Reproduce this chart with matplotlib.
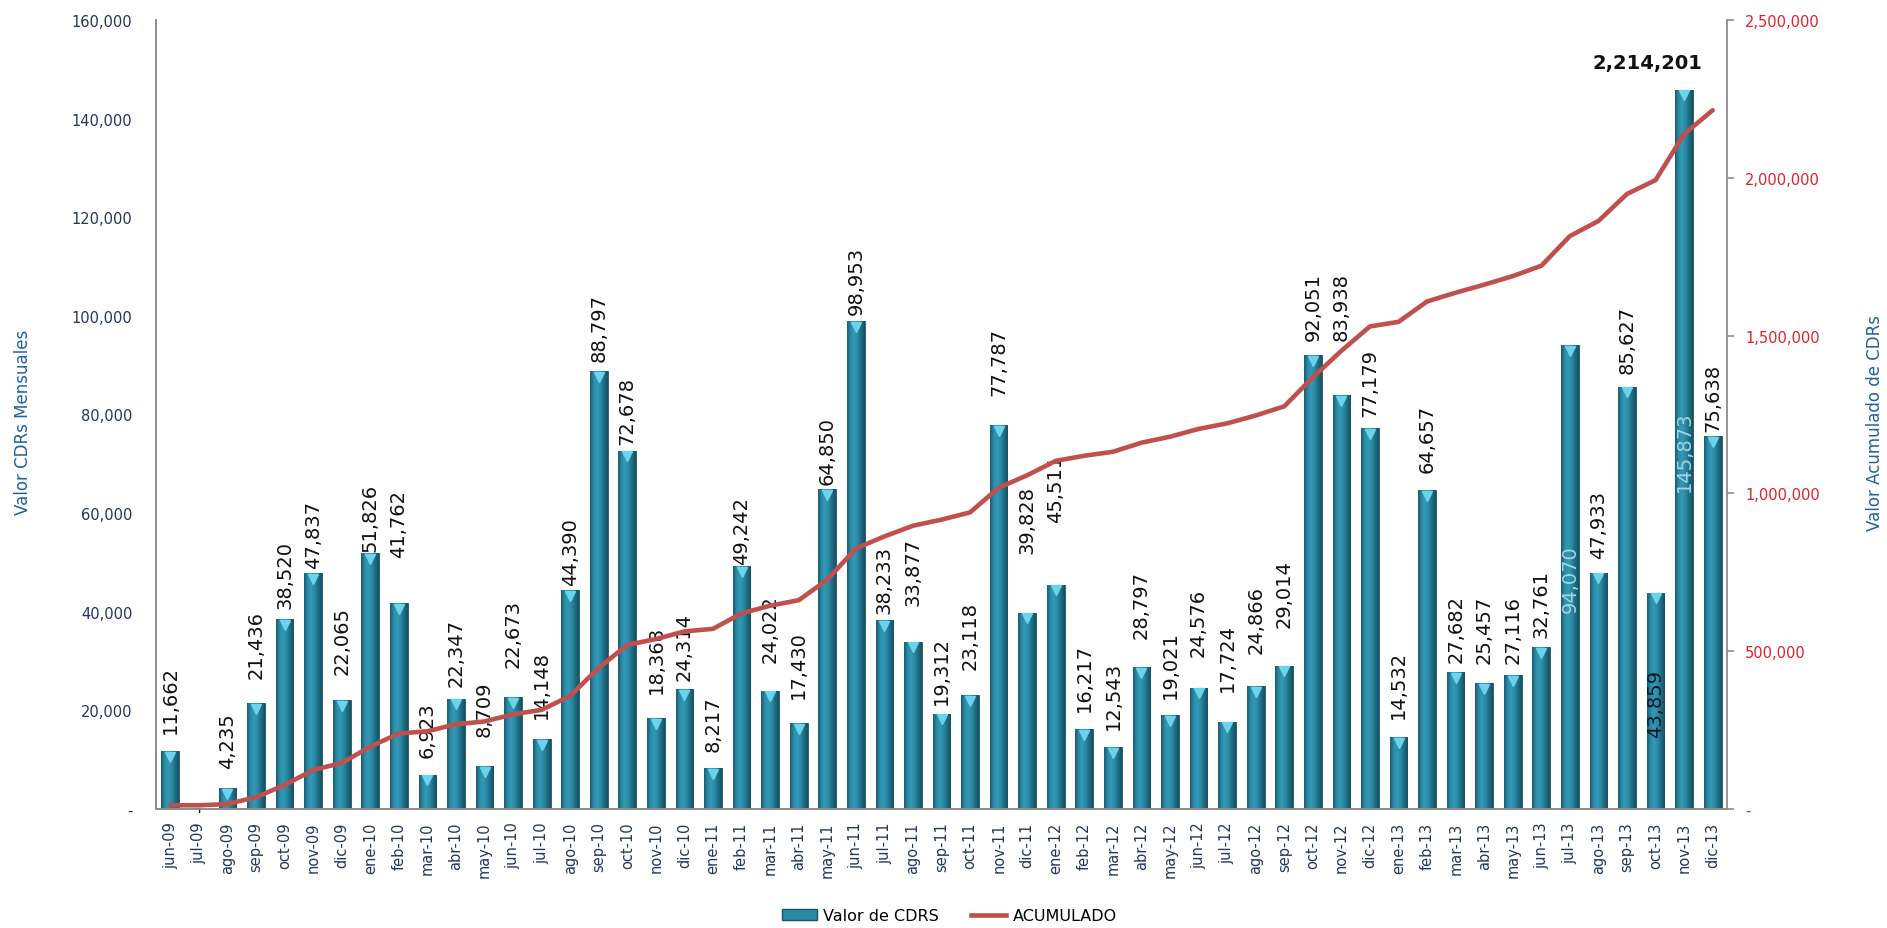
import numpy as np
import matplotlib
matplotlib.use("Agg")
import matplotlib.pyplot as plt
from matplotlib.colors import LinearSegmentedColormap
from matplotlib.patches import Patch
from matplotlib.lines import Line2D
from matplotlib.ticker import FuncFormatter, MultipleLocator
import matplotlib.transforms as mtransforms

# DATA
meses = ["jun-09", "jul-09", "ago-09", "sep-09", "oct-09", "nov-09", "dic-09",
         "ene-10", "feb-10", "mar-10", "abr-10", "may-10", "jun-10", "jul-10",
         "ago-10", "sep-10", "oct-10", "nov-10", "dic-10",
         "ene-11", "feb-11", "mar-11", "abr-11", "may-11", "jun-11", "jul-11",
         "ago-11", "sep-11", "oct-11", "nov-11", "dic-11",
         "ene-12", "feb-12", "mar-12", "abr-12", "may-12", "jun-12", "jul-12",
         "ago-12", "sep-12", "oct-12", "nov-12", "dic-12",
         "ene-13", "feb-13", "mar-13", "abr-13", "may-13", "jun-13", "jul-13",
         "ago-13", "sep-13", "oct-13", "nov-13", "dic-13"]

valor_cdrs = [11662, 0, 4235, 21436, 38520, 47837, 22065,
              51826, 41762, 6923, 22347, 8709, 22673, 14148,
              44390, 88797, 72678, 18368, 24314,
              8217, 49242, 24022, 17430, 64850, 98953, 38233,
              33877, 19312, 23118, 77787, 39828,
              45511, 16217, 12543, 28797, 19021, 24576, 17724,
              24866, 29014, 92051, 83938, 77179,
              14532, 64657, 27682, 25457, 27116, 32761, 94070,
              47933, 85627, 43859, 145873, 75638]

acumulado = np.cumsum(valor_cdrs)

# label gap above each bar (pixels), None = label drawn inside the bar
gaps = [18, 0, 20, 25, 11, 5, 26, 2, 46, 18, 13, 30, 30, 21, 5, 10, 7, 25, 9,
        17, 2, 29, 25, 5, 7, 7, 37, 10, 26, 30, 60, 63, 18, 18, 29, 17, 32, 31,
        33, 39, 15, 55, 12, 19, 18, 10, 20, 12, 10, None, 15, 14, None, None, 5]
# labels inside bars: index -> (bottom of text in data units, colour)
dentro = {49: (40000, "#9fd6e4"), 52: (14600, "#0d1a26"), 53: (64500, "#9fd6e4")}

# STYLE
c_line = "#c0504d"
c_tick = "#24365c"
c_axlabel = "#2060a0"
c_right = "#e0202c"
c_spine = "#8c8c8c"

fig = plt.figure(figsize=(18.87, 9.29), dpi=100)
ax = fig.add_axes([0.0827, 0.1281, 0.8325, 0.8493])
ax2 = ax.twinx()

x = np.arange(len(meses))
bars = ax.bar(x, valor_cdrs, width=0.62, color="#2a8aa5", edgecolor="#1b5565",
              linewidth=0.6, zorder=2)

# cylinder-like gradient on each bar
cmap = LinearSegmentedColormap.from_list(
    "cyl", ["#1a5b6e", "#2b8ba7", "#3399b6", "#2a89a4", "#1e6b80", "#175163"])
grad = np.linspace(0, 1, 64).reshape(1, -1)
for rect in bars:
    h = rect.get_height()
    if h <= 0:
        continue
    x0 = rect.get_x()
    w = rect.get_width()
    im = ax.imshow(grad, cmap=cmap, aspect="auto", interpolation="bilinear",
                   extent=(x0, x0 + w, 0, h), zorder=2.1)
    im.set_clip_path(rect)

# little light cap at top of bars
down = mtransforms.offset_copy(ax.transData, fig=fig, x=0, y=-4, units="points")
xs_cap = [i for i, v in enumerate(valor_cdrs) if v > 0]
ax.plot(xs_cap, [valor_cdrs[i] for i in xs_cap], linestyle="none", marker="v",
        ms=7, color="#6ad4ec", mec="#6ad4ec", transform=down, zorder=2.5)

ax.set_xlim(-0.5, len(meses) - 0.5)
ax.set_ylim(0, 160000)
ax2.set_ylim(0, 2500000)

# data labels
for i, v in enumerate(valor_cdrs):
    if v == 0:
        ax.text(i, 0, "-", rotation=90, ha="center", va="center", fontsize=13,
                color="#111111", zorder=3)
        continue
    txt = f"{v:,}"
    if i in dentro:
        ybot, col = dentro[i]
        ax.text(i, ybot, txt, rotation=90, ha="center", va="bottom",
                fontsize=14, color=col, zorder=3)
    else:
        ax.annotate(txt, (i, v), xytext=(0, gaps[i] * 0.72), textcoords="offset points",
                    rotation=90, ha="center", va="bottom", fontsize=14,
                    color="#111111", zorder=3)

# accumulated line
ax2.plot(x, acumulado, color=c_line, lw=3.3, solid_capstyle="round", zorder=4)
ax2.annotate(f"{acumulado[-1]:,}", (x[-1], acumulado[-1]), xytext=(-47, 34),
             textcoords="offset points", ha="center", va="center",
             fontsize=14, fontweight="bold", color="#111111")

# axes formatting
fmt = FuncFormatter(lambda v, p: "-" if v == 0 else f"{v:,.0f}")
ax.yaxis.set_major_locator(MultipleLocator(20000))
ax.yaxis.set_major_formatter(fmt)
ax2.yaxis.set_major_locator(MultipleLocator(500000))
ax2.yaxis.set_major_formatter(fmt)

ax.set_xticks(x)
ax.set_xticklabels(meses, rotation=90, fontsize=10.5, color=c_tick)
ax.tick_params(axis="x", length=0, pad=9)
ax.tick_params(axis="y", length=0, pad=17, labelsize=10.5, labelcolor=c_tick)
ax2.tick_params(axis="y", length=5, width=1.2, color=c_spine, pad=8,
                labelsize=10.5, labelcolor=c_right, direction="out")

for a in (ax, ax2):
    a.spines["top"].set_visible(False)
    for s in ("left", "right", "bottom"):
        a.spines[s].set_color(c_spine)
        a.spines[s].set_linewidth(1.3)
ax.spines["right"].set_visible(False)

fig.text(0.012, 0.545, "Valor CDRs Mensuales", rotation=90, ha="center",
         va="center", fontsize=12, color=c_axlabel)
fig.text(0.9935, 0.545, "Valor Acumulado de CDRs", rotation=90, ha="center",
         va="center", fontsize=12, color=c_axlabel)

handles = [Patch(facecolor="#2a8aa5", edgecolor="#1b5565"),
           Line2D([0], [0], color=c_line, lw=3.3)]
fig.legend(handles, ["Valor de CDRS", "ACUMULADO"], loc="center",
           bbox_to_anchor=(0.503, 0.013), ncol=2, frameon=False, fontsize=11.5,
           handlelength=2.2, columnspacing=2.0, handletextpad=0.4)

fig.savefig("out.png", dpi=100)
